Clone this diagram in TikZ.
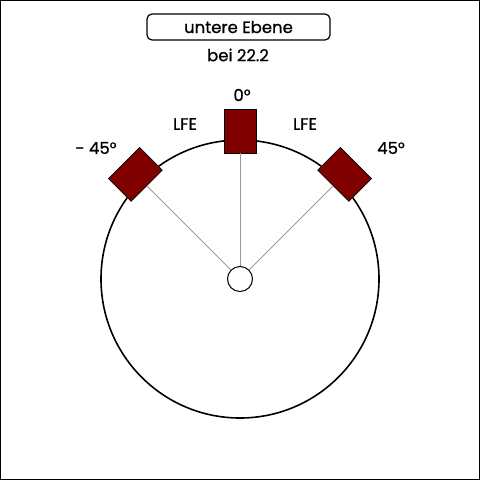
\documentclass[tikz,border=0pt]{standalone}
\usepackage{fontspec}
\setmainfont{Poppins}
\newfontfamily\lblfont{Poppins}[FakeBold=0.8]
\begin{document}
\begin{tikzpicture}[x=1pt,y=-1pt,
  spk/.style={draw=black,line width=0.8pt,fill={rgb,255:red,128;green,0;blue,0},minimum width=32pt,minimum height=44pt,inner sep=0pt},
  lbl/.style={font=\lblfont\fontsize{16.5}{16.5}\selectfont,inner sep=0pt},
  ray/.style={draw=gray!80,line width=0.8pt}]
\useasboundingbox (0,0) rectangle (480,480);
\draw[line width=2pt] (0,0) rectangle (480,480);
\node[draw,rounded corners=5pt,line width=1.2pt,minimum width=183pt,minimum height=26pt,lbl] (title) at (238.5,27) {untere Ebene};
\node[lbl] (sub) at (238,55) {bei 22.2};
\coordinate (c) at (240,279);
\draw[line width=1.6pt] (c) circle[radius=139];
\node[draw,circle,line width=1pt,minimum size=25pt,inner sep=0pt,fill=white] (lst) at (c) {};
\node[spk] (s0) at (240,131) {};
\node[spk,rotate=45] (sr) at (344.6,174.4) {};
\node[spk,rotate=-45] (sl) at (135.4,174.4) {};
\draw[ray] (lst) -- (s0);
\draw[ray] (lst) -- (sr);
\draw[ray] (lst) -- (sl);
\node[lbl] (l0) at (242,95) {0°};
\node[lbl] (lfel) at (185,124) {LFE};
\node[lbl] (lfer) at (305,124) {LFE};
\node[lbl] (ll) at (96,148) {- 45°};
\node[lbl] (lr) at (391,148) {45°};
\end{tikzpicture}
\end{document}
